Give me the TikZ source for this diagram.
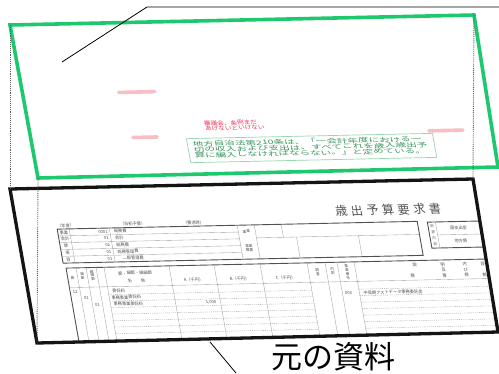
\documentclass[tikz,border=0pt]{standalone}
\usepackage{fontspec}
\setmainfont{Noto Sans CJK JP}
\usepackage{graphicx}
\definecolor{frameGreen}{RGB}{30,200,110}
\definecolor{frameBlack}{RGB}{20,20,20}
\definecolor{guideGray}{RGB}{90,90,90}
\definecolor{formGray}{RGB}{160,160,160}
\definecolor{formDark}{RGB}{80,80,80}
\definecolor{redText}{RGB}{235,50,90}
\definecolor{pinkMark}{RGB}{248,190,195}
\definecolor{boxGreen}{RGB}{150,215,175}
\definecolor{boxText}{RGB}{60,150,95}
\begin{document}
\begin{tikzpicture}[x=1pt,y=-1pt,
  gframe/.style={draw=frameGreen, line width=3.6pt},
  bframe/.style={draw=frameBlack, line width=3.3pt},
  guide/.style={draw=guideGray, line width=0.9pt, densely dotted},
  leader/.style={draw=black, line width=0.8pt},
  formline/.style={draw=formGray, line width=0.35pt},
  formbold/.style={draw=formDark, line width=0.9pt},
  formdash/.style={draw=formGray, line width=0.35pt, dash pattern=on 1.2pt off 0.9pt},
  ftxt/.style={font=\fontsize{4.2}{4.6}\selectfont, text=formDark, inner sep=0pt, transform shape},
  stxt/.style={font=\fontsize{3.6}{3.9}\selectfont, text=formDark, inner sep=0pt, align=center, transform shape},
  titletxt/.style={font=\fontsize{12}{14}\selectfont\addfontfeatures{LetterSpace=30}, text=formDark, inner sep=0pt, transform shape},
  redtxt/.style={font=\fontsize{5.5}{6}\selectfont, text=redText, inner sep=0pt, anchor=west, text height=4pt, text depth=0.5pt, transform shape},
  grtxt/.style={font=\fontsize{6}{6.5}\selectfont, text=boxText, inner sep=0pt, anchor=west, text height=4.3pt, text depth=0.6pt, transform shape},
  pinkstroke/.style={draw=pinkMark, line width=3.6pt, line cap=round},
  labeltxt/.style={font=\fontsize{31}{34}\selectfont, text=black, inner sep=0pt}
]
\useasboundingbox[fill=white] (0,0) rectangle (499,373);

% ---------- original document (black layer) ----------
\coordinate (BTL) at (10,189);
\coordinate (BTR) at (473,179);
\coordinate (BBR) at (498,332);
\coordinate (BBL) at (37,343);

\begin{scope}[cm={1,0.0216,-0.1753,1,(10pt,-189pt)}]
  \clip (0,0) rectangle (463,154);
  % title
  \node[titletxt] (title) at (373,29) {歳出予算要求書};
  % header labels
  \node[ftxt] (h1) at (49,37.5) {（年度）};
  \node[ftxt] (h2) at (116,37.5) {（当初予算）};
  \node[ftxt] (h3) at (177,37.5) {（要求時）};
  % upper box
  \draw[formbold] (40,41) rectangle (400,75);
  \foreach \y in {47.8,54.6,61.4,68.2} \draw[formline] (40,\y) -- (220,\y);
  \foreach \x in {52,92,220,237} \draw[formline] (\x,41) -- (\x,75);
  \draw[formline] (237,54) -- (400,54);
  \draw[formline] (264,41) -- (264,54);
  \draw[formline] (277,54) -- (277,75);
  \draw[formline] (339,54) -- (339,75);
  \foreach \lab/\code/\nm [count=\i] in {事業/0001/総務費, 会計/01/会計, 款/02/総務費, 項/01/総務管理費, 目/01/\hspace{4pt}一般管理費} {
    \node[ftxt] (ul\i) at (46,{37.6+6.8*\i}) {\lab};
    \node[ftxt,anchor=east] (uc\i) at (90,{37.6+6.8*\i}) {\code};
    \node[ftxt,anchor=west] (un\i) at (96,{37.6+6.8*\i}) {\nm};
  }
  \node[stxt] (jg1) at (228,47.5) {事業};
  \node[stxt] (jg2) at (228,64) {事業\\概要};
  % small right box
  \draw[formbold] (410,42) rectangle (475,68);
  \draw[formline] (418,42) -- (418,68);
  \draw[formline] (418,55) -- (475,55);
  \node[font=\fontsize{3.4}{6.2}\selectfont, text=formDark, inner sep=0pt, align=center, transform shape] (zg) at (414,55) {財\\源\\内\\訳};
  \node[ftxt] (kk) at (440,48.5) {国支出金};
  \node[ftxt] (ch) at (440,61.5) {地方債};
  % lower table
  \draw[formbold] (42,80) -- (475,80);
  \draw[formbold] (42,80) -- (42,160);
  \foreach \x in {52,62,72,80,145,190,236,283,301,313,330} \draw[formline] (\x,80) -- (\x,160);
  \draw[formline] (42,99.5) -- (475,99.5);
  \foreach \y in {107.3,113.8,120.3,126.8,133.3,139.8,146.3,152.8} \draw[formdash] (80,\y) -- (283,\y);
  \foreach \y in {107.3,113.8,120.3,126.8,133.3,139.8,146.3,152.8} \draw[formdash] (330,\y) -- (475,\y);
  % header texts
  \node[stxt] (lh1) at (47,90) {節};
  \node[stxt] (lh2) at (57,88) {細\\節};
  \node[stxt] (lh3) at (67,88) {細\\細\\節};
  \node[ftxt] (lh4) at (110,86.5) {節・細節・細細節};
  \node[ftxt] (lh5) at (110,94) {名\hspace{9pt}称};
  \node[ftxt] (lhA) at (167,94.5) {A（千円）};
  \node[ftxt] (lhB) at (213,94.5) {B（千円）};
  \node[ftxt] (lhC) at (259,94.5) {C（千円）};
  \node[stxt] (lh6) at (292,89) {調\\査};
  \node[stxt] (lh7) at (307,89) {内\\訳};
  \node[stxt] (lh8) at (321.5,90) {事\\業\\番\\号};
  \node[ftxt] (s1) at (390,84.5) {説};
  \node[ftxt] (s2) at (418,84.5) {明};
  \node[ftxt] (s3) at (440,84.5) {内};
  \node[ftxt] (s4) at (458,84.5) {容};
  \node[ftxt] (s5) at (418,90) {及};
  \node[ftxt] (s6) at (440,90) {び};
  \node[ftxt] (s7) at (386,95.5) {積};
  \node[ftxt] (s8) at (418,95.5) {算};
  \node[ftxt] (s9) at (440,95.5) {根};
  \node[ftxt] (s10) at (458,95.5) {拠};
  % data rows
  \node[ftxt] (d1) at (47,104) {12};
  \node[ftxt,anchor=west] (d2) at (84,104) {委託料};
  \node[ftxt] (d3) at (57,110.5) {01};
  \node[ftxt,anchor=west] (d4) at (82,110.5) {事務事業委託料};
  \node[ftxt] (d5) at (319,111) {003};
  \node[ftxt,anchor=west] (d6) at (334,111) {中長期アストデータ事務委託金};
  \node[ftxt] (d7) at (67,117) {01};
  \node[ftxt,anchor=west] (d8) at (83,117) {事務事業委託料};
  \node[ftxt,anchor=east] (d9) at (186,117) {1,000};
\end{scope}
\draw[bframe] (BTL) -- (BTR) -- (BBR) -- (BBL) -- cycle;

% ---------- annotation layer (green) ----------
\coordinate (GTL) at (10,25);
\coordinate (GTR) at (474,15);
\coordinate (GBR) at (498,167);
\coordinate (GBL) at (38,178);

\begin{scope}[cm={1,0.02155,-0.183,1,(10pt,-25pt)}]
  \draw[pinkstroke] (96,69.5) -- (132,69.5);
  \draw[pinkstroke] (102,114.7) -- (126,114.7);
  \draw[pinkstroke] (398,114.4) -- (432,114.4);
  \node[redtxt] (r1) at (175.2,102.6) {\scalebox{1.2}[1]{審議会、条例まだ}};
  \node[redtxt] (r2) at (175.3,107.6) {\scalebox{1.2}[1]{あげないといけない}};
  \draw[draw=boxGreen, line width=0.7pt, fill=white] (155,117) rectangle (401,141);
  \node[grtxt] (g1) at (160,123) {\scalebox{1.76}[1]{地方自治法第210条は、「一会計年度における一}};
  \node[grtxt] (g2) at (160,128.7) {\scalebox{1.78}[1]{切の収入および支出は、すべてこれを歳入歳出予}};
  \node[grtxt] (g3) at (160,134.4) {\scalebox{1.75}[1]{算に編入しなければならない。」と定めている。}};
\end{scope}
\draw[gframe] (GTL) -- (GTR) -- (GBR) -- (GBL) -- cycle;

% ---------- guide lines between layers ----------
\draw[guide] (GTL) -- (BTL);
\draw[guide] (GBL) -- (BBL);
\draw[guide] (GTR) -- (BTR);

% ---------- leader lines and label ----------
\coordinate (c1) at (62,62);
\coordinate (c2) at (147,7);
\coordinate (c3) at (499,7);
\draw[leader] (c1) -- (c2) -- (c3);
\coordinate (d1) at (210,342);
\coordinate (d2) at (236,373);
\draw[leader] (d1) -- (d2);
\node[labeltxt] (lbl) at (333,357) {元の資料};
\end{tikzpicture}
\end{document}
